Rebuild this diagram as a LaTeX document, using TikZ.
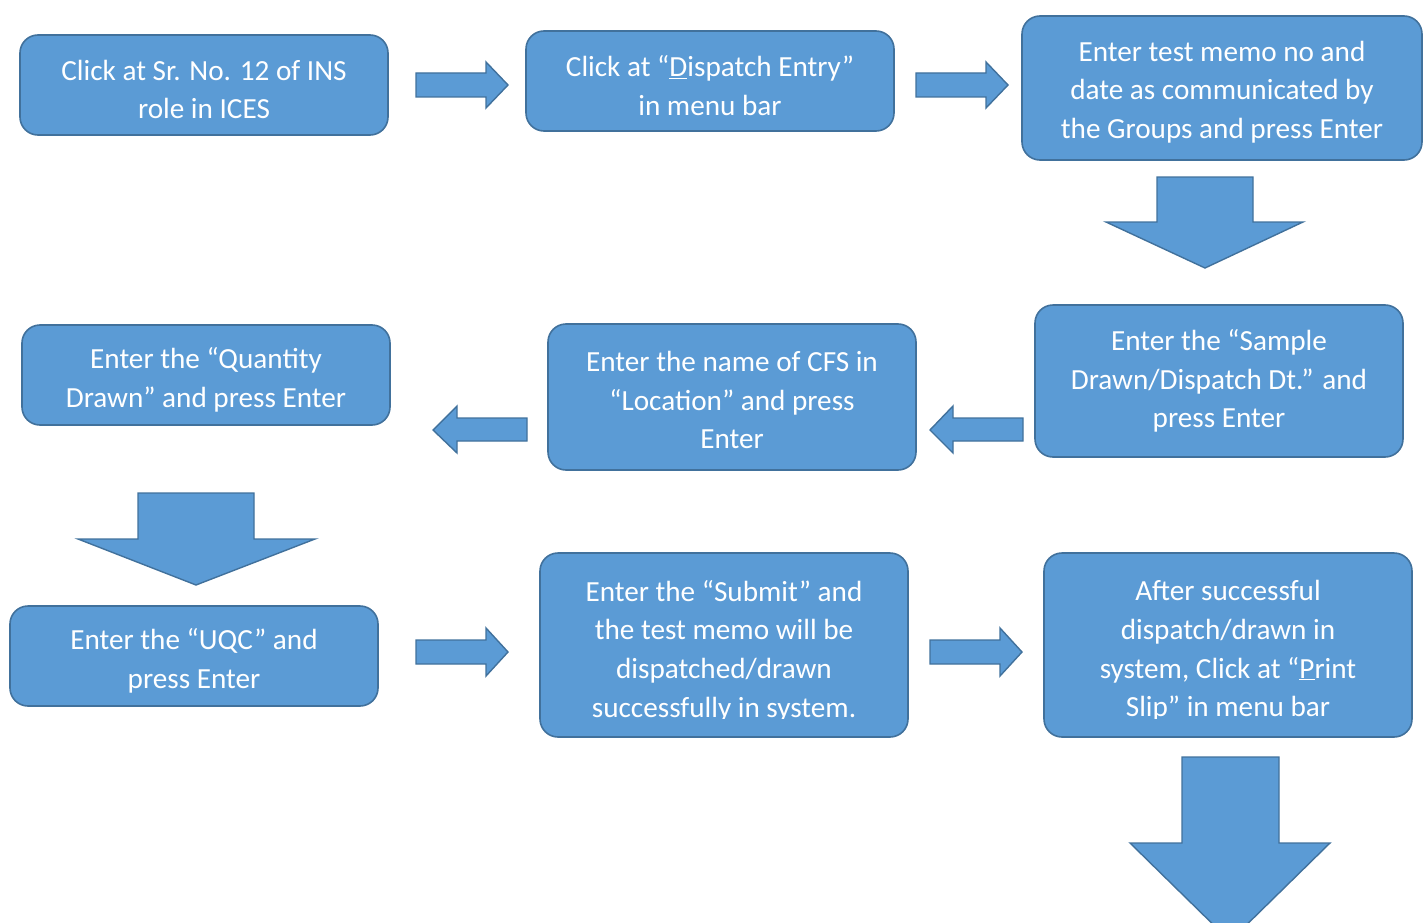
\documentclass[tikz,border=0pt]{standalone}
\usepackage{fontspec}
\setmainfont{Carlito}
\definecolor{boxfill}{HTML}{5B9BD5}
\definecolor{boxline}{HTML}{41719C}
\begin{document}
\begin{tikzpicture}[x=1pt,y=-1pt,
  stepbox/.style={draw=boxline,fill=boxfill,line width=1.6pt,rounded corners=18pt},
  steptext/.style={text=white,align=center,inner sep=0pt,font=\fontsize{29.2}{38.7}\selectfont},
  blockarrow/.style={draw=boxline,fill=boxfill,line width=1.4pt,line join=miter}]
\useasboundingbox (0,0) rectangle (1426,923);
\clip (0,0) rectangle (1426,923);
% boxes
\draw[stepbox] (20,35) rectangle (388,135);
\node[steptext] (t1) at (204,89.5) {Click at Sr. No. 12 of INS\\role in ICES};
\draw[stepbox] (526,31) rectangle (894,131);
\node[steptext] (t2) at (710,85.5) {Click at “\underline{D}ispatch Entry”\\in menu bar};
\draw[stepbox] (1022,16) rectangle (1422,160);
\node[steptext] (t3) at (1222,92) {Enter test memo no and\\date as communicated by\\the Groups and press Enter};
\draw[stepbox] (1035,305) rectangle (1403,457);
\node[steptext] (t4) at (1219,381) {Enter the “Sample\\Drawn/Dispatch Dt.” and\\press Enter};
\draw[stepbox] (548,324) rectangle (916,470);
\node[steptext] (t5) at (732,400) {Enter the name of CFS in\\“Location” and press\\Enter};
\draw[stepbox] (22,325) rectangle (390,425);
\node[steptext] (t6) at (206,379.5) {Enter the “Quantity\\Drawn” and press Enter};
\draw[stepbox] (10,606) rectangle (378,706);
\node[steptext] (t7) at (194,660.5) {Enter the “UQC” and\\press Enter};
\draw[stepbox] (540,553) rectangle (908,737);
\begin{scope}
\clip (540,560) rectangle (908,718);
\node[steptext] (t8) at (724,651) {Enter the “Submit” and\\the test memo will be\\dispatched/drawn\\successfully in system.};
\end{scope}
\draw[stepbox] (1044,553) rectangle (1412,737);
\begin{scope}
\clip (1044,560) rectangle (1412,718);
\node[steptext] (t9) at (1228,651) {After successful\\dispatch/drawn in\\system, Click at “\underline{P}rint\\Slip” in menu bar};
\end{scope}
% right arrows
\draw[blockarrow] (416,73) -- (486,73) -- (486,62) -- (508,85) -- (486,108) -- (486,97) -- (416,97) -- cycle;
\draw[blockarrow] (916,73) -- (986,73) -- (986,62) -- (1008,85) -- (986,108) -- (986,97) -- (916,97) -- cycle;
\draw[blockarrow] (416,640) -- (486,640) -- (486,628) -- (508,652) -- (486,676) -- (486,664) -- (416,664) -- cycle;
\draw[blockarrow] (930,640) -- (1000,640) -- (1000,628) -- (1022,652) -- (1000,676) -- (1000,664) -- (930,664) -- cycle;
% left arrows
\draw[blockarrow] (527,418) -- (457,418) -- (457,406) -- (433,430) -- (457,453) -- (457,441) -- (527,441) -- cycle;
\draw[blockarrow] (1023,418) -- (953,418) -- (953,406) -- (930,430) -- (953,453) -- (953,441) -- (1023,441) -- cycle;
% down arrows
\draw[blockarrow] (1157,177) -- (1253,177) -- (1253,222) -- (1303,222) -- (1205,268) -- (1106,222) -- (1157,222) -- cycle;
\draw[blockarrow] (138,493) -- (254,493) -- (254,539) -- (315,539) -- (196,585) -- (78,539) -- (138,539) -- cycle;
\draw[blockarrow] (1182,757) -- (1279,757) -- (1279,843) -- (1330,843) -- (1230,941) -- (1130,843) -- (1182,843) -- cycle;
\end{tikzpicture}
\end{document}
